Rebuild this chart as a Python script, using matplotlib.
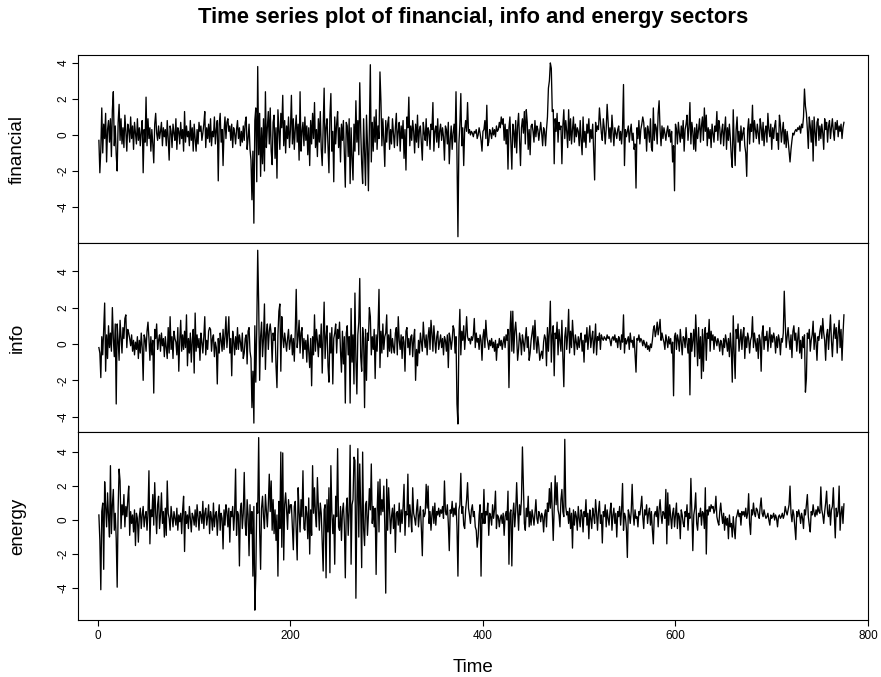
import numpy as np
import matplotlib.pyplot as plt

plt.rcParams.update({
    "font.family": ["Liberation Sans", "DejaVu Sans"],
    "axes.unicode_minus": False,
    "axes.linewidth": 0.8,
    "lines.linewidth": 0.95,
    "xtick.labelsize": 8.5,
    "ytick.labelsize": 8.5,
})

# ------------------------------------------------------------
# Daily values (index 1..775)
# ------------------------------------------------------------
financial = [
    -0.3, -2.1, -0.8, 1.5, -1.0, 0.6, -0.2, 1.2, -1.5, 0.3, 0.8, -0.4, 0.9, -1.2, 1.4, 2.4, -0.6, 0.5, -1.1, -2.0, 0.7, 1.7, -0.3, 0.9, -0.5,
    0.4, -0.7, 1.1, 0.2, -0.9, 0.6, 0.3, -0.4, 1.0, -0.2, 0.5, -0.8, 0.7, 0.1, -0.5, 0.9, -0.3, 0.4, -0.6, 0.2, 0.8, -2.1, 0.3, -0.4, 2.1,
    -0.6, 0.9, -0.2, 0.4, -0.9, 0.3, -0.5, -1.55, 0.6, 1.2, 0.1, -0.3, 0.5, -0.2, 0.2, 0.7, -0.6, 0.4, -0.1, 0.3, -0.6, 0.8, -0.2, -1.4, 0.5,
    0.2, -0.7, 0.6, 0.1, -0.3, 0.9, -0.8, 0.4, 0.2, -0.5, 0.7, -0.2, 0.3, -0.9, 1.3, -0.4, 0.5, -0.1, 0.2, -0.6, 0.8, -0.3, 0.4, -0.9, 0.6,
    -0.2, -0.9, 0.3, -0.5, 0.7, 0.2, 0.5, -0.3, 0.1, 0.6, 1.3, -0.7, 0.4, -0.2, 0.6, -0.4, 0.9, -0.6, 0.2, -0.1, 1.0, -0.5, 0.3, 0.8, -2.55,
    0.6, 1.2, -0.4, 0.3, -1.7, 0.2, 1.0, -0.2, 0.7, 0.9, 0.2, 0.5, -0.3, 0.6, -0.7, 0.4, 0.1, -0.5, 0.3, 0.8, -0.2, 0.4, -0.6, 0.2, -0.4,
    0.5, -0.3, 0.7, 1.0, -0.8, -0.2, 0.6, -0.8, -1.4, -3.6, -0.9, -4.9, 0.8, 1.5, -2.6, 3.8, -1.1, 1.2, -2.3, 0.4, -1.6, 0.9, -2.0, 2.4, -0.7,
    0.4, 1.3, -0.5, 1.5, -0.9, -1.65, 0.7, 1.1, -1.3, 0.4, -2.4, 1.4, 0.3, -0.8, 1.2, 0.4, 2.2, -0.6, 0.8, -1.0, 0.5, -0.2, 1.0, -0.7, 0.3,
    2.2, -0.5, 0.9, -0.8, 0.3, 1.1, -0.4, 0.6, -1.4, 2.4, -0.9, 0.2, 0.7, -0.6, 1.0, -0.3, 0.5, -1.1, 0.4, -1.7, 0.8, -0.5, 1.2, -0.2, 1.8,
    -0.7, 0.3, -1.2, 0.9, -0.4, 1.3, -0.8, -1.7, 0.5, 2.6, -1.0, 0.4, 0.9, -0.6, -2.1, 1.1, 2.3, -0.9, 0.2, -2.6, 1.0, -0.5, 0.6, 1.3, -0.7,
    0.4, -1.5, 0.6, -0.3, 0.8, -1.0, -2.9, 0.7, 0.5, -1.2, 0.9, -2.7, 0.4, -1.3, -2.5, 0.6, -0.9, 1.9, -0.4, 0.8, -1.1, 2.9, 0.3, -1.6, -2.7,
    0.9, -1.0, -2.8, 1.1, -0.5, -3.1, 0.6, 3.9, -1.5, 0.7, -0.9, 1.0, -0.4, 1.4, -0.8, 0.5, -0.2, 3.5, 1.9, -0.6, 0.9, -0.3, -1.75, 0.8, -0.4,
    0.6, 1.0, -0.8, 0.3, -0.5, 0.9, 0.1, -0.7, 0.4, 1.2, -0.6, 0.2, 0.7, -0.9, 0.5, -0.2, 0.8, -1.3, 0.3, -1.95, 1.0, 0.4, 2.1, -0.6, 0.5,
    -0.3, 0.8, 0.2, -1.0, 0.6, -0.4, 1.1, -0.7, 0.3, 0.5, -0.5, -1.4, 0.7, 0.1, -0.3, 0.9, -0.6, 0.4, 0.2, -0.8, 0.6, 0.3, 1.8, -0.9, 0.2,
    0.5, -0.4, 0.9, -0.7, 0.2, 0.6, -0.3, 0.4, -0.1, -1.4, 0.5, 0.3, -0.5, 0.7, -1.6, -0.3, 0.5, -0.8, 0.1, 0.6, -0.4, 2.4, -1.2, -5.65, -0.5,
    0.6, 2.3, -0.6, 0.4, -1.7, 0.3, 0.8, 0.2, 1.8, 0.1, 0.3, 0.0, 0.2, 0.1, -0.1, 0.2, 0.1, 0.3, -0.2, 0.0, 0.4, 0.1, -0.3, -0.9, 0.2,
    0.3, 0.8, -0.2, 1.65, -0.6, -0.4, 0.3, 0.1, -0.2, 0.4, 0.0, 0.3, -0.1, 0.5, 0.2, 0.3, 0.7, 0.4, 1.0, 0.6, 0.9, -0.3, 0.6, -0.5, 0.3,
    -1.9, 0.4, 1.0, -0.4, -1.9, 0.6, 0.2, -0.7, 0.8, -1.0, 0.5, 1.2, -0.3, -1.7, 0.4, 0.9, 0.1, 1.3, -0.5, 1.4, 0.7, -0.8, 0.3, -1.1, 0.5,
    0.6, 0.2, -0.4, 0.8, -0.1, 0.5, 0.3, -0.3, 0.2, 0.7, 0.1, -0.6, 0.4, 0.2, -0.6, 0.3, 1.0, 2.6, 3.0, 4.0, 3.7, 1.3, 1.4, -1.6, 0.9,
    0.2, 1.2, -0.4, 0.7, 0.3, 0.5, -1.6, 0.5, 1.4, -0.2, 0.8, 0.2, -0.7, 1.4, -0.3, 0.9, -0.5, 0.3, 1.0, -0.4, 0.6, -0.1, 0.4, 0.2, -0.6,
    0.8, -0.3, -1.1, 1.0, -0.4, 0.2, -0.7, 0.6, 0.1, 0.9, -0.4, 0.3, -0.2, 0.6, -0.9, -2.5, 0.7, 0.2, 0.5, 0.3, 1.5, 0.8, 0.1, -0.3, 0.9,
    0.4, -0.5, 0.3, 1.7, 0.8, -0.2, 0.4, -0.4, 1.1, 0.2, -0.6, 0.4, 0.1, -0.2, 0.3, 0.5, -0.3, 0.2, -0.5, 0.4, 2.8, -1.7, 0.3, -0.1, 0.2,
    0.5, -0.4, 0.2, 0.6, -0.3, 0.1, -0.8, -0.5, -2.95, 0.4, -0.2, 0.8, -0.5, 0.3, 0.6, 1.0, 0.7, -0.2, 0.4, -0.9, 0.5, 0.2, -0.4, 0.9, -0.7,
    -0.9, 1.5, -0.3, 0.6, 0.4, -0.5, 1.2, 1.9, 0.3, -0.6, 0.5, -0.2, 0.4, 0.1, -0.3, 0.2, 0.5, -0.1, 0.3, -0.4, 0.2, -1.5, -0.6, -3.1, 0.6,
    0.3, -0.5, 0.7, 0.1, -0.4, 0.5, -0.2, 0.8, -0.9, 0.3, 0.6, 1.1, -0.3, 0.4, 1.8, -0.5, 0.7, 0.2, -0.8, 0.4, -0.9, 0.6, -0.2, 0.3, 0.9,
    -0.4, 0.5, 1.0, -0.3, 1.5, 0.2, 1.1, -0.6, 0.4, -0.2, 0.3, -0.7, 0.6, 0.1, -0.4, 0.5, 0.2, 1.3, -0.3, 0.8, 0.4, -0.5, 0.2, 0.6, -0.6,
    0.3, 1.0, -0.8, 0.4, -0.3, 0.6, -0.2, -1.2, -1.8, 1.4, -0.5, -1.7, 0.3, 1.0, -0.4, 0.2, -0.9, 0.5, -0.3, 0.1, 0.4, -0.6, -1.0, -2.3, 0.3,
    0.9, -0.5, 0.6, 0.2, 1.65, -0.4, 0.8, 0.3, -0.2, 0.6, 0.1, -0.5, 0.9, 0.4, -0.3, 0.7, -0.6, 0.2, 0.5, -0.4, 1.2, 0.3, -0.1, 0.6, -0.8,
    0.4, -0.2, 0.5, 0.8, -0.3, 0.1, -0.8, 1.1, 0.6, -0.4, 0.2, 0.7, -0.5, 0.3, -0.7, 0.2, -0.3, -0.9, -1.5, -0.8, -0.3, 0.1, 0.0, 0.2, 0.3,
    0.2, 0.4, 0.3, 0.5, 0.1, 0.6, 0.4, 1.0, 2.55, 1.6, 1.2, 0.3, -0.75, 1.0, 0.5, -0.4, 0.8, -1.45, 1.0, 0.2, -0.6, 0.7, 0.9, -0.3, 0.5,
    -0.2, 0.6, 0.1, -0.8, 0.9, 0.3, 0.7, -0.4, 0.5, 0.8, -0.2, 0.4, 0.9, 0.2, -0.3, 0.7, 0.3, 0.8, -0.1, 0.5, 0.2, 0.6, -0.2, 0.4, 0.7,
]

info = [
    -0.2, -0.5, -1.85, 0.4, -0.6, 0.9, 2.25, -1.5, 0.5, -0.8, 1.0, -0.2, 0.6, -0.4, 2.0, 0.3, -0.7, 1.1, -3.3, 1.1, 0.2, -0.9, 1.3, 0.4, -0.5,
    0.9, 0.3, 1.4, 1.6, -0.2, 0.8, 0.6, 0.3, -0.1, 0.5, -0.4, 0.2, -0.6, 0.1, -0.3, 0.4, -0.8, 0.2, -0.5, 0.6, -0.2, -2.0, 0.5, 0.3, -0.4,
    0.7, 1.2, 0.3, -0.9, 0.4, -0.6, 0.2, -2.7, 0.8, 0.3, 1.1, -0.3, 0.2, 0.5, -0.4, 0.6, -0.1, 0.3, -0.7, 0.4, -0.2, -0.8, 0.9, -0.5, 1.5,
    -0.3, 0.4, -0.8, 0.7, 0.3, 0.1, -0.6, 0.9, -1.5, 0.2, 1.3, -0.4, 0.5, -0.3, 0.7, -0.2, 1.6, -1.2, 0.3, -0.5, 0.6, -1.0, 0.2, 0.8, -1.6,
    1.7, -0.4, 0.5, -0.2, 0.3, -0.9, 0.6, 0.1, -0.5, 0.4, 1.5, -0.6, 0.2, -0.3, 0.7, 0.9, 0.8, -0.4, 0.3, 0.5, -0.7, 0.1, -0.2, -2.2, 0.3,
    -0.5, 0.6, 0.2, -0.4, 0.8, -0.3, 0.4, 1.5, -0.2, 0.6, 1.5, -0.5, 0.3, -1.75, 0.7, 0.2, -0.6, 0.4, -0.3, 0.9, -0.3, 0.5, 0.1, -0.4, 0.6,
    -0.8, -0.5, 0.3, 0.5, -1.1, 0.7, 0.9, -0.4, -0.8, -3.5, -1.5, -4.35, 1.0, -2.1, 0.8, 5.15, 2.2, -2.0, 0.4, 1.2, -0.7, 0.3, 2.2, -1.4, 0.6,
    1.1, -0.3, 0.7, 1.1, 0.5, -1.0, 0.6, 0.2, 0.9, -1.2, -2.4, 0.5, 1.8, 2.2, -1.5, 1.5, 0.4, -0.2, 0.6, 0.1, -0.4, 0.3, 0.8, -0.3, 0.2,
    0.5, -0.6, 0.3, -0.95, 0.7, 3.0, -0.2, 0.4, 1.3, -0.5, 0.6, 0.9, -0.8, 0.3, -0.3, 0.2, -1.0, 0.5, -0.4, -1.3, 0.3, -2.3, 0.4, -0.6, 1.6,
    -0.4, 0.8, 0.2, -0.7, 0.5, -0.2, 1.1, -1.6, 0.4, 2.3, -0.8, 0.4, 1.0, -1.2, -2.1, 0.6, -0.5, 0.9, -2.2, 0.3, 0.6, 1.1, -0.5, 0.8, 0.3,
    1.2, -0.4, -1.55, 0.7, -1.1, 0.4, -3.25, 0.6, 1.0, -0.6, 0.4, -3.25, 1.95, -1.0, 0.5, -2.2, 2.8, -0.9, -2.75, 0.5, 1.2, 3.6, -0.7, -1.5, 0.9,
    0.3, -3.5, 0.8, -2.0, 0.6, 0.2, 2.0, 1.5, -0.6, 0.4, -0.3, 0.8, -1.9, 0.5, -0.4, 0.9, 3.0, -1.3, 0.7, -0.5, 1.1, -0.3, 0.4, 0.6, 1.6,
    -0.7, 0.5, -0.4, 0.8, -0.5, 0.3, -0.2, -0.5, 0.6, 0.9, -0.6, 1.5, 0.2, -0.3, 0.5, -0.8, 0.4, 0.1, -1.5, 0.7, 0.9, -0.2, 0.3, -0.6, 0.4,
    0.5, -0.7, 0.3, 0.8, -2.0, -0.3, -1.2, 0.2, -0.5, 0.6, 0.1, -0.4, 1.2, 0.3, -0.2, 0.5, -0.6, 0.4, 0.9, -0.3, 1.3, 0.6, -0.4, 1.0, 0.2,
    -0.5, 0.4, 0.7, -0.3, 0.1, 0.5, -0.2, 0.3, -0.6, 0.4, 0.2, -0.4, 0.5, -1.3, 0.6, 0.3, -0.3, 0.2, 1.0, 0.8, -0.5, 0.4, -3.3, -4.4, 0.3,
    1.9, -0.6, 0.7, 0.2, 1.0, -0.3, 0.5, 1.5, 0.4, 0.2, 0.3, 0.0, 0.4, 0.2, 0.5, 1.4, -0.2, 0.6, 0.1, 0.3, -0.3, 0.5, 0.2, -0.9, 0.4,
    0.8, -0.2, 1.3, 0.4, 0.1, -0.3, 0.2, -0.1, 0.3, -0.2, 0.1, -0.4, 0.2, -0.9, 0.0, -0.2, 0.3, -0.1, 0.2, -0.3, 0.1, 0.4, -0.2, 0.5, 0.2,
    0.8, -2.4, 0.6, 1.8, -0.4, 1.8, -0.5, 0.7, 1.2, 0.4, -0.9, -0.3, 0.6, 0.2, -0.6, 0.5, 0.1, -0.4, 0.3, 0.9, -0.2, 0.4, -0.9, -0.5, 0.2,
    0.6, 1.0, -0.3, 1.3, 0.2, -0.5, 0.4, -0.1, -0.9, -0.6, -0.4, -0.8, 0.1, 0.5, 0.3, -1.2, 0.9, -0.4, 0.7, 2.35, -1.0, 0.5, 1.0, -1.75, 0.6,
    0.3, 1.2, -0.6, 0.8, 0.2, -0.4, 1.3, -0.7, -2.35, 0.4, 0.9, -0.3, 0.5, 1.9, -0.5, 0.7, -0.2, 1.3, 0.3, -0.6, 0.5, 0.1, -0.3, 0.4, -0.2,
    0.3, 0.6, -0.4, 0.2, -1.0, 0.5, 0.1, 0.9, -0.3, 0.4, 1.0, -0.2, 0.3, 0.7, -0.5, 0.2, 1.1, -0.6, 0.4, 0.2, 0.6, -0.3, 0.5, 0.3, 0.2,
    0.4, 0.3, 0.2, 0.5, 0.3, 0.4, 0.2, -0.1, 0.3, 0.4, 0.2, 0.5, 0.1, 0.3, -0.2, 0.4, 0.2, -0.3, 0.5, 0.1, 1.6, -0.5, 0.3, 0.0, 0.2,
    0.4, -0.3, 0.6, 0.1, 0.2, -0.2, 0.4, -0.6, -1.55, 0.3, 0.2, 0.5, 0.1, 0.3, 0.2, -0.1, 0.2, 0.0, -0.2, 0.1, -0.3, -0.1, -0.4, 0.0, -0.2,
    0.2, 0.8, 1.0, 0.4, 0.7, 1.2, 0.5, 0.9, 1.35, 0.2, 0.6, 0.3, 0.1, -0.3, 0.5, 0.2, -0.2, 0.4, 0.0, 0.3, -0.5, 0.1, -2.85, 0.4, 0.6,
    -0.3, 0.5, 0.2, -0.4, 0.8, 0.1, -0.6, 0.4, 0.3, -0.2, 0.9, 0.1, -0.5, 0.3, -2.8, 0.6, -0.4, 0.2, 0.8, -0.7, 1.6, 0.3, -1.2, 0.9, -0.8,
    0.4, -1.9, 0.8, -1.5, 0.5, 0.9, -0.9, 0.6, 0.3, 1.35, -0.4, 0.7, 0.2, 0.5, -0.3, 0.4, 0.2, -0.1, 0.3, 0.1, -0.4, 0.2, 0.0, -0.6, 0.3,
    -0.2, 0.5, 0.1, -0.4, 0.3, -0.7, 0.6, -0.3, -2.1, 1.55, -0.5, -1.9, 0.8, 0.3, 1.1, -0.4, 0.2, 0.8, -0.3, 0.5, 0.9, -0.8, 0.4, -0.2, 0.6,
    0.3, -0.5, 0.2, 0.4, 1.5, -0.2, 0.6, 0.1, -0.4, 0.3, -0.8, 0.5, 0.2, -1.5, 0.6, 1.0, -0.3, 0.4, 0.2, 0.7, -0.4, 0.3, 0.9, -0.2, 0.5,
    0.1, 0.6, 0.3, -0.5, 0.4, -0.2, 0.5, 0.2, -0.6, 0.3, 0.1, 0.6, 2.9, 1.2, -0.2, 0.4, 0.9, 0.2, -0.3, 0.5, -0.75, 0.7, 1.0, 0.2, 0.6,
    -0.4, 0.3, 0.9, -0.5, 0.2, -0.8, 0.4, -0.2, 0.5, -2.65, -1.9, 0.6, 0.3, 0.8, -0.4, 0.2, 0.5, 1.25, -0.3, 0.6, 0.1, -0.9, 0.4, 0.2, 0.7,
    1.0, 0.3, 1.4, 0.6, 0.2, -0.9, 0.5, 0.8, -0.3, 0.6, 1.6, 0.2, -0.7, 0.4, 1.1, 0.3, 0.9, -0.5, 0.6, 1.3, -0.2, 0.8, -0.9, 0.5, 1.6,
]

energy = [
    0.3, -1.2, -4.1, 0.5, 1.0, -2.9, 2.25, 0.8, -0.4, 1.6, 0.2, -1.0, 3.2, -0.8, 0.9, 1.8, -0.6, 0.4, -1.1, -3.95, 0.7, 3.0, 2.3, -0.5, 0.9,
    0.3, 1.5, -0.4, 0.8, 0.2, 1.2, 2.0, -0.9, 0.5, -0.2, 0.3, -0.7, 0.6, -1.5, 0.4, 0.1, -1.3, 0.2, 0.7, -0.5, 0.3, 0.8, -0.4, 0.2, 0.5,
    -0.6, 0.4, 2.9, -1.4, 0.6, 0.2, 1.5, -0.3, 2.2, 0.4, -0.8, 0.9, 1.4, -0.5, 0.3, 1.6, -0.2, 0.5, -1.0, 0.7, -0.9, 2.3, 0.4, 0.1, -0.6,
    0.8, 0.2, -0.4, 0.5, 0.1, -0.3, 0.7, -0.6, 0.3, -0.1, 0.4, -0.8, 0.6, 1.4, -1.85, 0.5, -0.2, 0.3, -0.5, 0.8, 0.1, -0.7, 0.4, 0.2, -0.3,
    0.6, -0.4, 0.9, 0.2, -0.6, 0.5, 0.3, -0.2, 1.1, -0.5, 0.4, 0.7, -0.3, 0.2, 0.9, -0.8, 0.5, 0.1, -0.6, 1.0, -0.4, 0.3, 0.5, -0.9, 0.2,
    0.9, -0.6, 0.4, 0.1, -1.7, 0.6, -0.3, 0.9, 0.5, -0.4, 0.7, -1.3, 0.5, 0.2, 0.8, -0.6, 0.4, 3.0, -0.9, 0.5, 0.3, -2.7, 0.6, 1.0, -0.5,
    0.4, 2.8, -0.3, -0.9, 1.2, 0.3, -2.1, 0.9, -0.8, 0.5, -3.3, 0.8, -5.3, -3.3, 1.0, 0.4, 4.85, -0.6, -2.9, 0.7, 1.4, 0.2, -0.5, 1.5, 0.6,
    -0.4, 0.9, 2.7, 0.5, 2.3, -0.6, 1.2, -0.8, 0.6, -1.2, 0.3, -3.3, 1.1, -0.5, 4.0, -1.6, 3.95, -2.35, 0.9, 1.6, 0.6, -0.55, 1.2, 0.4, 0.9,
    0.9, -0.4, -1.75, 0.8, 1.1, -0.6, -2.35, 1.9, 0.5, -0.7, 1.2, 0.2, 2.9, -0.5, -0.6, 0.8, 0.4, -1.1, 1.3, -2.0, 0.6, -0.9, 3.2, 0.4, 1.9,
    0.3, -0.4, 2.5, 0.8, -0.6, 1.0, 0.4, -1.4, -3.0, 0.6, 0.9, -3.4, 1.2, -0.7, 1.9, -3.1, 3.2, 0.5, -0.8, 0.3, -2.6, 1.4, 0.2, 4.2, -0.4,
    -0.6, 0.8, -1.2, 0.5, 1.0, -0.3, -3.4, 0.7, 1.3, -0.9, 0.5, 4.4, -2.6, 0.9, 1.2, 3.7, 3.5, -4.6, 0.8, 4.2, -1.0, 3.3, 0.6, -2.8, 4.0,
    -0.5, -1.5, 0.9, 1.1, -0.9, 0.3, 1.85, 0.6, 3.3, -0.2, 0.8, -0.4, 0.7, -3.2, 0.4, 2.25, -0.7, 2.4, 0.3, 1.2, 0.5, 2.0, -0.3, -4.3, 2.4,
    -0.6, 1.9, 0.5, -0.8, 0.2, 0.7, -0.5, 0.9, -1.9, 0.4, 0.5, -0.3, 1.0, -0.7, 0.6, -0.2, 0.8, 2.1, -0.9, 0.5, 0.3, 2.7, -0.4, 0.9, 0.2,
    -0.7, 1.9, 0.4, 0.1, -0.3, 0.6, 1.2, -0.4, 0.3, 0.8, -0.5, -2.1, 0.6, 0.2, 0.4, 2.1, 0.7, 2.0, -0.2, 0.5, -0.6, 0.3, 0.8, -0.2, 1.0,
    -0.3, 0.5, 0.3, 0.7, 0.2, 0.6, 0.4, 0.8, 0.1, 2.3, 0.5, 0.3, 0.9, -0.2, -1.8, 0.6, 0.4, 1.1, 0.2, 0.7, 0.3, 1.0, -0.4, -3.3, 0.6,
    0.9, 2.75, 0.4, 0.8, -0.3, -0.5, 0.6, 1.2, 2.2, 0.7, 0.3, -0.2, 0.6, 0.9, 0.2, 0.5, -0.4, -0.6, -1.6, -1.0, 0.3, 0.9, -3.3, 0.4, -0.2,
    1.8, -0.2, 0.5, 0.3, 1.0, -0.9, 0.4, 0.2, -0.3, 0.9, 0.1, 0.6, 1.7, -0.5, 0.3, 0.2, -0.4, 0.1, 0.3, -0.2, 0.4, -0.9, 0.2, 0.5, 0.0,
    1.7, -2.6, 0.4, 0.6, -2.7, 0.3, 1.0, -0.4, 0.5, 2.2, 0.6, -0.6, 0.9, 0.3, 1.2, 4.3, 2.1, -0.2, -0.6, 0.7, 0.2, 1.4, -0.4, 0.5, -0.3,
    0.6, 0.2, -0.3, 0.4, 1.2, 0.1, -0.2, 0.5, 0.3, -0.1, 0.4, 0.2, -0.7, 0.3, 0.6, -0.4, 1.0, 0.5, 1.85, 0.7, 2.2, 0.4, -1.2, 0.8, 2.6,
    0.9, 2.2, 0.6, 0.3, -0.4, 1.2, 1.8, 0.5, 0.2, 4.75, 0.8, 0.3, 0.5, -0.2, 0.7, -0.5, 0.4, -1.65, 0.6, -0.3, 0.5, 0.2, -0.6, 0.8, 0.1,
    -0.4, 0.6, 0.3, -0.7, 0.5, 0.2, 1.2, -0.3, 0.4, -1.1, 0.6, 0.1, -0.5, 0.7, 0.3, -0.2, 1.2, 0.4, -0.6, 0.5, 1.1, -0.2, 0.3, -1.35, 0.5,
    0.2, 0.9, -0.4, 0.6, 0.1, -0.3, 0.5, 1.0, -0.6, 0.3, 0.7, -0.2, 0.4, -1.0, 0.5, 0.2, 0.8, -0.3, 0.6, 2.15, -0.6, 0.4, 0.2, -0.5, -2.2,
    0.6, 0.3, -0.2, 0.5, 2.1, 0.4, -0.3, 0.6, 0.1, 0.2, -0.4, 0.5, 0.3, 0.8, 1.4, 0.2, -0.5, 0.6, 0.3, 0.9, -0.2, 0.4, 0.7, -0.3, 0.5,
    -0.6, -1.4, 0.3, 0.5, 0.2, 0.8, -0.4, 0.6, 1.2, 0.3, -0.2, 0.5, 0.4, 0.1, 1.8, -1.4, 1.6, -0.3, 0.9, 0.2, -0.5, 0.4, 0.7, -0.4, 0.3,
    1.0, -0.5, 0.4, 0.2, -1.1, 0.6, 0.3, -0.2, -0.4, 0.5, 0.2, 0.9, -0.6, 0.4, 0.1, 2.45, 0.5, -1.8, 0.3, 0.7, 1.6, -0.2, -0.6, 0.4, 0.2,
    0.7, -0.3, 0.5, 0.4, -0.5, 1.9, -2.0, 0.6, 0.3, 0.8, 0.5, 0.9, 0.7, 0.8, 0.4, 0.6, 1.4, 0.2, -0.1, -0.3, 0.5, 1.0, 0.3, -0.2, 0.4,
    -0.6, 0.2, -0.3, 0.1, -1.1, 0.3, -0.4, -0.2, -1.0, 0.2, -0.5, -1.1, 0.1, 0.3, 0.6, 0.2, 0.4, -0.3, 0.5, 0.3, 0.5, 0.2, 0.7, 0.1, 0.4,
    1.55, -0.2, -0.85, 0.6, 0.3, 1.0, 0.4, 0.2, 0.7, 0.6, 0.3, 0.1, 0.8, 1.3, 0.4, 0.2, 0.6, 0.3, 0.1, 0.2, 0.4, 0.0, -0.3, 0.3, 0.1,
    0.2, 0.4, 0.0, 0.3, 0.1, -0.4, 0.2, 0.3, 0.1, 0.2, 0.4, 0.1, 0.3, 0.8, 0.5, 0.3, 0.6, 0.9, 2.0, 0.4, -0.1, 0.6, 0.3, -0.4, -1.15,
    0.5, 0.2, 0.6, 0.3, -0.2, 0.4, 0.1, -0.5, 0.6, 0.3, 0.9, 1.5, 0.2, -0.3, -0.7, 0.5, 0.3, 0.9, 0.4, 0.2, 0.6, 0.3, 0.8, 0.5, 0.4,
    1.95, 0.6, 0.3, -0.2, 0.5, 1.0, 1.7, 0.4, 0.2, 0.9, -0.3, 0.6, 0.8, 1.9, 0.3, -1.05, 0.7, 0.2, 0.5, 2.0, -0.6, 0.4, 0.8, -0.2, 0.95,
]

series_names = ["financial", "info", "energy"]
series_values = [financial, info, energy]
y_limits = [(-6.0, 4.44), (-4.84, 5.55), (-5.88, 5.18)]

x_ticks = [0, 200, 400, 600, 800]
y_ticks = [-4, -2, 0, 2, 4]

TITLE = "Time series plot of financial, info and energy sectors"

# ------------------------------------------------------------
# Layout (pixel positions of the stacked panels)
# ------------------------------------------------------------
W, H = 881, 677
LEFT, RIGHT = 78, 868
panel_edges = [(55, 243), (243, 432), (432, 620)]

fig = plt.figure(figsize=(W / 100, H / 100), dpi=100)

for i, (name, vals) in enumerate(zip(series_names, series_values)):
    top, bottom = panel_edges[i]
    ax = fig.add_axes([LEFT / W, 1 - bottom / H, (RIGHT - LEFT) / W, (bottom - top) / H])

    t = np.arange(1, len(vals) + 1)
    ax.plot(t, vals, color="black")

    ax.set_xlim(-20.7, 798.8)
    ax.set_ylim(*y_limits[i])

    ax.set_yticks(y_ticks)
    ax.tick_params(axis="y", direction="out", length=4.5, width=0.8, pad=1.5,
                   labelrotation=90)
    for lab in ax.get_yticklabels():
        lab.set_va("center")

    ax.set_ylabel(name, fontsize=13.5)
    ax.yaxis.set_label_coords(-0.066, 0.5)

    ax.set_xticks(x_ticks)
    if i < len(series_names) - 1:
        ax.tick_params(axis="x", bottom=False, labelbottom=False)
    else:
        ax.tick_params(axis="x", direction="out", length=4.5, width=0.8, pad=3)

fig.text((LEFT + RIGHT) / 2 / W, 1 - 18 / H, TITLE,
         ha="center", va="center", fontsize=15.8, fontweight="bold")
fig.text((LEFT + RIGHT) / 2 / W, 1 - 667 / H, "Time",
         ha="center", va="center", fontsize=13.5)

fig.savefig("out.png", dpi=100)
